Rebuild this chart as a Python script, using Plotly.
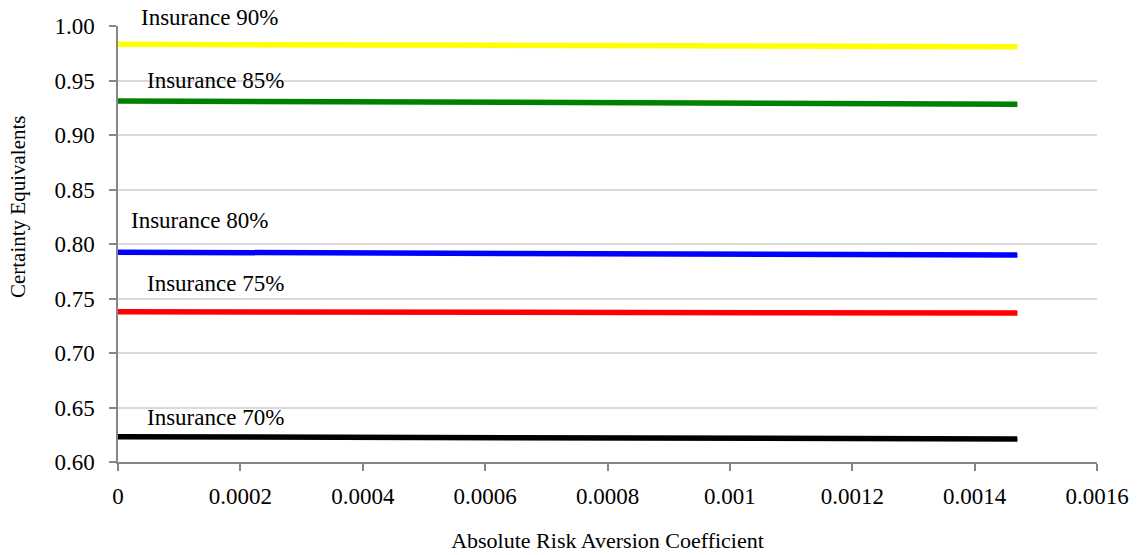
import plotly.graph_objects as go

# Absolute risk aversion coefficient (x) sampled along each curve
risk_aversion = [0, 0.00018, 0.00055, 0.00092, 0.00129, 0.00147]

# Certainty equivalents for each insurance coverage level
ce_90 = [0.9832, 0.9829, 0.9824, 0.9819, 0.9814, 0.9810]
ce_85 = [0.9313, 0.9309, 0.9303, 0.9296, 0.9287, 0.9282]
ce_80 = [0.7925, 0.7922, 0.7916, 0.7910, 0.7902, 0.7898]
ce_75 = [0.7378, 0.7377, 0.7374, 0.7371, 0.7368, 0.7366]
ce_70 = [0.6232, 0.6229, 0.6224, 0.6219, 0.6214, 0.6211]

series_names = ["Insurance 90%", "Insurance 85%", "Insurance 80%",
                "Insurance 75%", "Insurance 70%"]
series_values = [ce_90, ce_85, ce_80, ce_75, ce_70]
series_colors = ["#FFFF00", "#008000", "#0000FF", "#FF0000", "#000000"]

x_tick_vals = [0, 0.0002, 0.0004, 0.0006, 0.0008, 0.001, 0.0012, 0.0014, 0.0016]
x_tick_text = ["0", "0.0002", "0.0004", "0.0006", "0.0008", "0.001",
               "0.0012", "0.0014", "0.0016"]

Y_MIN, Y_MAX = 0.60, 1.00

# label placement: x in data units, y as fraction of the plot height
label_pos = [(0.000150, 1.019), (0.000159, 0.874), (0.000134, 0.555),
             (0.000159, 0.410), (0.000159, 0.101)]

FONT = "Liberation Serif"

fig = go.Figure()
for name, vals, col in zip(series_names, series_values, series_colors):
    fig.add_trace(go.Scatter(x=risk_aversion, y=vals, mode="lines", name=name,
                             line=dict(color=col, width=5.5),
                             showlegend=False))

for name, (lx, ly) in zip(series_names, label_pos):
    fig.add_annotation(x=lx, y=ly, xref="x", yref="y domain", text=name,
                       showarrow=False, xanchor="center", yanchor="middle",
                       font=dict(family=FONT, size=23, color="#000000"))

# vertical y-axis title, sitting a little above the plot's mid-height
fig.add_annotation(x=-0.102, y=0.585, xref="x domain", yref="y domain",
                   text="Certainty Equivalents", textangle=-90,
                   showarrow=False, xanchor="center", yanchor="middle",
                   font=dict(family=FONT, size=21, color="#000000"))

fig.update_layout(
    width=1142, height=555,
    margin=dict(l=118, r=45, t=26, b=93),
    paper_bgcolor="white", plot_bgcolor="white",
    font=dict(family=FONT, size=23, color="#000000"),
)
fig.update_xaxes(
    range=[0, 0.0016], tickvals=x_tick_vals, ticktext=x_tick_text,
    automargin=False,
    showgrid=False, zeroline=False,
    showline=True, linecolor="#868686", linewidth=1.5,
    ticks="outside", ticklen=7, tickcolor="#868686", tickwidth=1.5,
    ticklabelstandoff=6,
    tickfont=dict(family=FONT, size=23, color="#000000"),
    title=dict(text="Absolute Risk Aversion Coefficient", standoff=24,
               font=dict(family=FONT, size=22, color="#000000")),
)
fig.update_yaxes(
    range=[Y_MIN, Y_MAX], dtick=0.05, tickformat=".2f",
    automargin=False,
    showgrid=True, gridcolor="#D9D9D9", gridwidth=1.5, zeroline=False,
    showline=True, linecolor="#868686", linewidth=1.5,
    ticks="outside", ticklen=7, tickcolor="#868686", tickwidth=1.5,
    ticklabelstandoff=10,
    tickfont=dict(family=FONT, size=23, color="#000000"),
)

fig.write_html("out.html")
